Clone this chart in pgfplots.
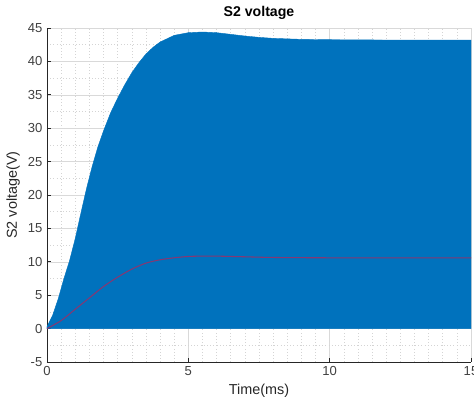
\documentclass[border=0pt]{standalone}
\usepackage{fontspec}
\setmainfont{Liberation Sans}
\usepackage{pgfplots}
\pgfplotsset{compat=1.18}

\definecolor{mblue}{rgb}{0,0.447,0.741}
\definecolor{mred}{rgb}{0.52,0.22,0.45}
\definecolor{axgray}{rgb}{0.15,0.15,0.15}

\begin{document}
\begin{tikzpicture}
\begin{axis}[
    scale only axis,
    width=318pt, height=250.5pt,
    xmin=0, xmax=15, ymin=-5, ymax=45,
    xtick={0,5,10,15}, ytick={-5,0,...,45},
    minor x tick num=9, minor y tick num=1,
    axis lines*=left,
    axis line style={-, draw=axgray, line width=0.5pt},
    tick align=inside,
    major tick length=3pt, minor tick length=0pt,
    tick style={draw=axgray, line width=0.5pt},
    grid=both,
    major grid style={draw=black!15, line width=0.4pt},
    minor grid style={draw=black!17, dotted, line width=0.4pt},
    tick label style={font=\fontsize{9.8}{11}\selectfont, text=black!75},
    /pgf/number format/assume math mode=true,
    title={\bfseries S2 voltage},
    title style={font=\fontsize{10.6}{12}\selectfont, yshift=-3pt},
    xlabel={Time(ms)},
    ylabel={S2 voltage(V)},
    label style={font=\fontsize{10.8}{12}\selectfont, text=axgray},
    xlabel style={yshift=1pt},
    ylabel style={yshift=-1pt},
]
% switching waveform envelope (0 .. peak)
\addplot[fill=mblue, draw=mblue, line width=0.3pt] coordinates {
    (0,0) (0,0.3) (0.2,2.0) (0.4,4.5) (0.6,7.5) (0.8,10.2) (1.0,13.5) (1.2,17.3)
    (1.4,21.0) (1.6,24.3) (1.8,27.2) (2.0,29.6) (2.25,32.3) (2.5,34.5) (2.75,36.5)
    (3.0,38.3) (3.25,39.8) (3.5,41.1) (3.75,42.1) (4.0,42.9) (4.5,43.9) (5.0,44.3)
    (5.5,44.4) (6.0,44.3) (6.5,44.05) (7.0,43.8) (7.5,43.6) (8.0,43.45) (9.0,43.3)
    (10.0,43.25) (12.0,43.2) (15.0,43.2) (15,0)
} \closedcycle;
% averaged voltage
\addplot[mred, line width=0.8pt, smooth] coordinates {
    (0,0) (0.5,1.2) (1.0,2.9) (1.5,4.6) (2.0,6.3) (2.5,7.7) (3.0,8.9) (3.5,9.8)
    (4.0,10.3) (4.5,10.6) (5.0,10.8) (5.5,10.85) (6.0,10.85) (7.0,10.75)
    (8.0,10.65) (10.0,10.6) (15.0,10.6)
};
\end{axis}
\pgfresetboundingbox
\path[use as bounding box] (current axis.south west) ++(-35.25pt,-33pt) rectangle ++(355.5pt,304.5pt);
\end{tikzpicture}
\end{document}
